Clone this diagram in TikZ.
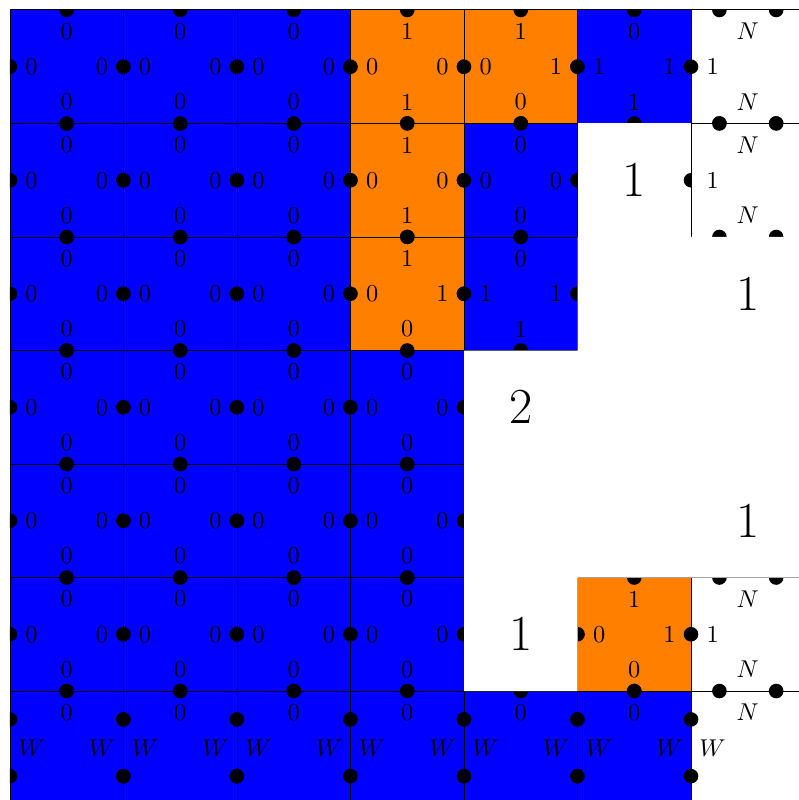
\documentclass[tikz,border=0pt]{standalone}

\tikzset{
  cellbox/.style={draw=black},
  bdot/.style={fill=black},
  lbl/.style={inner sep=0pt},
  bignum/.style={font=\huge,inner sep=0pt},
}
\newcommand\dotr{3pt}
\newcommand\fcell[7]{%
  \draw[cellbox,fill=#3] (#1,#2) rectangle ++(1,1);
  \fill[bdot] (#1+.5,#2+1) circle[radius=\dotr] (#1,#2+.5) circle[radius=\dotr]
              (#1+1,#2+.5) circle[radius=\dotr] (#1+.5,#2) circle[radius=\dotr];
  \node[lbl] (t-#1-#2) at (#1+.5,#2+.81) {#4};
  \node[lbl] (l-#1-#2) at (#1+.19,#2+.5) {#5};
  \node[lbl] (r-#1-#2) at (#1+.81,#2+.5) {#6};
  \node[lbl] (b-#1-#2) at (#1+.5,#2+.19) {#7};
}
\newcommand\wcell[1]{%
  \draw[cellbox,fill=blue] (#1,0) rectangle ++(1,1);
  \fill[bdot] (#1+.5,1) circle[radius=\dotr]
              (#1,.25) circle[radius=\dotr] (#1,.75) circle[radius=\dotr]
              (#1+1,.25) circle[radius=\dotr] (#1+1,.75) circle[radius=\dotr];
  \node[lbl] (wt-#1) at (#1+.5,.81) {0};
  \node[lbl] (wl-#1) at (#1+.19,.5) {$W$};
  \node[lbl] (wr-#1) at (#1+.81,.5) {$W$};
}
\newcommand\ncell[2]{%
  \draw[cellbox,fill=white] (#1,#2) rectangle ++(1,1);
  \foreach \f in {.25,.75}{
    \fill[bdot] (#1+\f,#2) circle[radius=\dotr] (#1+\f,#2+1) circle[radius=\dotr];
  }
  \node[lbl] (nt-#1-#2) at (#1+.5,#2+.81) {$N$};
  \node[lbl] (nl-#1-#2) at (#1+.19,#2+.5) {1};
  \node[lbl] (nb-#1-#2) at (#1+.5,#2+.19) {$N$};
}

\begin{document}
\begin{tikzpicture}[x=1.64cm,y=1.64cm]
  \useasboundingbox (-0.088,0.04) rectangle (6.943,7.088);
  \begin{scope}
    \clip (0,0) rectangle (7,7);
    % corner and ghost cells on the right
    \draw[cellbox,fill=white] (6,0) rectangle ++(1,1);
    \node[lbl] (ct) at (6.5,.81) {$N$};
    \node[lbl] (cl) at (6.19,.5) {$W$};
    \ncell{6}{6}
    \ncell{6}{1}
    % fine cells
    \foreach \y in {4,5,6}{
      \foreach \x in {0,1,2}{
        \fcell{\x}{\y}{blue}{0}{0}{0}{0}
      }
    }
    \foreach \y in {1,2,3}{
      \foreach \x in {0,...,3}{
        \fcell{\x}{\y}{blue}{0}{0}{0}{0}
      }
    }
    \foreach \x/\y/\cc/\tt/\ll/\rr/\bb in {3/6/orange/1/0/0/1, 4/6/orange/1/0/1/0,
        5/6/blue/0/1/1/1, 3/5/orange/1/0/0/1, 4/5/blue/0/0/0/0,
        3/4/orange/1/0/1/0, 4/4/blue/0/1/1/1, 5/1/orange/1/0/1/0}{
      \fcell{\x}{\y}{\cc}{\tt}{\ll}{\rr}{\bb}
    }
    \foreach \x in {0,...,5}{
      \wcell{\x}
    }
    % coarse cells
    \fill[white] (5,5) rectangle (6,6);
    \fill[bdot] (6,5.5) circle[radius=\dotr];
    \ncell{6}{5}
    \fill[white] (5,5) -- (8,5) -- (8,2) -- (5,2) -- (5,1) -- (4,1) -- (4,4) -- (5,4) -- cycle;
  \end{scope}
  \node[bignum] (c1) at (5.5,5.5) {1};
  \node[bignum] (c2) at (6.5,4.5) {1};
  \node[bignum] (c3) at (4.5,3.5) {2};
  \node[bignum] (c4) at (6.5,2.5) {1};
  \node[bignum] (c5) at (4.5,1.5) {1};
\end{tikzpicture}
\end{document}
